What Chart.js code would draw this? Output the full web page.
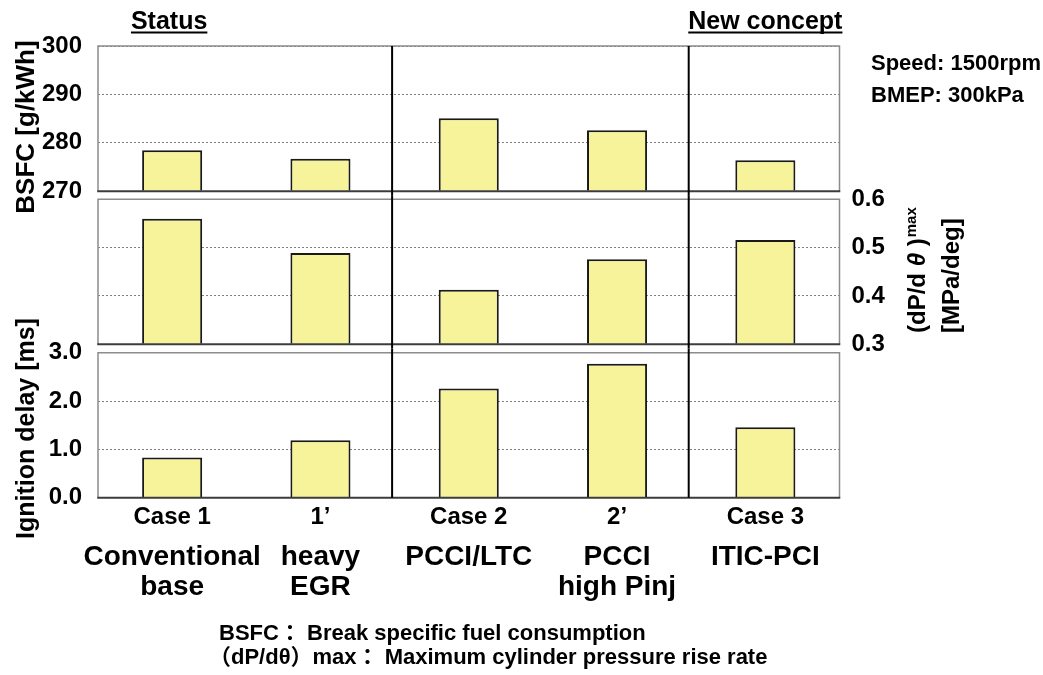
<!DOCTYPE html>
<html><head><meta charset="utf-8">
<script src="https://cdn.jsdelivr.net/npm/chart.js@4.4.1/dist/chart.umd.min.js"></script>
<style>
html,body{margin:0;padding:0;background:#fff;}
#wrap{position:relative;width:1043px;height:675px;overflow:hidden;background:#fff;}
canvas{position:absolute;left:0;top:0;}
</style></head>
<body><div id="wrap">
<canvas id="c1" width="1043" height="675"></canvas>
<canvas id="c2" width="1043" height="675"></canvas>
<canvas id="c3" width="1043" height="675"></canvas>
</div>
<script>
// ---- data ----
const categories = ['Case 1', '1\u2019', 'Case 2', '2\u2019', 'Case 3'];
const categoryLines = [['Conventional', 'base'], ['heavy', 'EGR'], ['PCCI/LTC'], ['PCCI', 'high Pinj'], ['ITIC-PCI']];
const groupTitles = ['Status', 'New concept'];
const groupTitleAt = [0, 4];
const dividerAfter = [1, 3];
const bsfc = [278.5, 276.7, 285.1, 282.6, 276.4];
const dpdthetaMax = [0.560, 0.489, 0.413, 0.476, 0.516];
const ignitionDelay = [0.83, 1.19, 2.26, 2.77, 1.46];
const bsfcTicks = [270, 280, 290, 300];
const dpTicks = [0.3, 0.4, 0.5, 0.6];
const ignTicks = [0.0, 1.0, 2.0, 3.0];
const conditions = ['Speed: 1500rpm', 'BMEP: 300kPa'];
const footnotes = ['BSFC\uFF1A Break specific fuel consumption', '\uFF08dP/d\u03B8\uFF09max\uFF1A Maximum cylinder pressure rise rate'];

// ---- style ----
const FONT = '"Liberation Sans", Arial, "Noto Sans CJK JP", sans-serif';
const W = 1043, H = 675;
const LEFT = 98, RIGHT = 839.5;
const BAR_FILL = '#F7F39B';

function txt(ctx, s, x, y, size, align, style) {
  ctx.font = (style || 'bold') + ' ' + size + 'px ' + FONT;
  ctx.textAlign = align || 'left';
  ctx.textBaseline = 'alphabetic';
  ctx.fillStyle = '#000';
  ctx.fillText(s, x, y);
  return ctx.measureText(s).width;
}
function rtxt(ctx, s, x, y, size, align) {
  ctx.save(); ctx.translate(x, y); ctx.rotate(-Math.PI / 2);
  txt(ctx, s, 0, 0, size, align);
  ctx.restore();
}

function makePanelPlugin(extTop, extBottom, extra) {
  return {
    id: 'panel',
    afterDatasetsDraw(chart) {
      const ctx = chart.ctx, a = chart.chartArea, x = chart.scales.x;
      ctx.save();
      ctx.setLineDash([]);
      ctx.strokeStyle = '#8c8c8c'; ctx.lineWidth = 1.5;
      ctx.beginPath();
      ctx.moveTo(a.left, a.bottom); ctx.lineTo(a.left, a.top);
      ctx.lineTo(a.right, a.top); ctx.lineTo(a.right, a.bottom);
      ctx.stroke();
      ctx.strokeStyle = '#3c3c3c'; ctx.lineWidth = 2;
      ctx.beginPath(); ctx.moveTo(a.left - 0.75, a.bottom); ctx.lineTo(a.right + 0.75, a.bottom); ctx.stroke();
      ctx.strokeStyle = '#000'; ctx.lineWidth = 2;
      dividerAfter.forEach(i => {
        const px = (x.getPixelForValue(i) + x.getPixelForValue(i + 1)) / 2 - 2.5;
        ctx.beginPath(); ctx.moveTo(px, a.top - extTop); ctx.lineTo(px, a.bottom + extBottom); ctx.stroke();
      });
      ctx.restore();
    },
    afterDraw(chart) { if (extra) { chart.ctx.save(); extra(chart); chart.ctx.restore(); } }
  };
}

function makeChart(id, values, ticks, decimals, pos, top, bottom, extTop, extBottom, extra) {
  const left = pos === 'left';
  return new Chart(document.getElementById(id), {
    type: 'bar',
    data: {
      labels: categories,
      datasets: [{
        data: values, base: ticks[0],
        backgroundColor: BAR_FILL, borderColor: '#1a1a1a', borderWidth: 2,
        borderSkipped: 'start', barPercentage: 0.405, categoryPercentage: 1
      }]
    },
    options: {
      responsive: false, animation: false, events: [],
      layout: { padding: { left: left ? 0 : LEFT, right: left ? W - RIGHT : 0, top: top, bottom: H - bottom } },
      plugins: { legend: { display: false }, tooltip: { enabled: false } },
      scales: {
        x: { display: false },
        y: {
          position: pos, min: ticks[0], max: ticks[ticks.length - 1],
          afterBuildTicks: s => { s.ticks = ticks.map(v => ({ value: v })); },
          afterFit: s => { s.width = left ? LEFT : W - RIGHT; },
          ticks: {
            color: '#000', padding: left ? 16 : 12,
            font: { family: FONT, size: 24, weight: 'bold' },
            callback: v => Number(v).toFixed(decimals)
          },
          grid: { color: '#808080', lineWidth: 1, drawTicks: false },
          border: { display: false, dash: [2, 2] }
        }
      }
    },
    plugins: [makePanelPlugin(extTop, extBottom, extra)]
  });
}

// top panel: BSFC
makeChart('c1', bsfc, bsfcTicks, 0, 'left', 46, 191.3, 0, 4.1, chart => {
  const ctx = chart.ctx, x = chart.scales.x;
  groupTitles.forEach((t, k) => {
    const cx = x.getPixelForValue(groupTitleAt[k]) - (k === 0 ? 3 : 0);
    const w = txt(ctx, t, cx, 29, 25, 'center');
    ctx.strokeStyle = '#000'; ctx.lineWidth = 2;
    ctx.beginPath(); ctx.moveTo(cx - w / 2, 32.5); ctx.lineTo(cx + w / 2, 32.5); ctx.stroke();
  });
  rtxt(ctx, 'BSFC [g/kWh]', 34, 127, 26, 'center');
  txt(ctx, conditions[0], 871, 70, 22, 'left');
  txt(ctx, conditions[1], 871, 101.5, 22, 'left');
});

// middle panel: (dP/dtheta)max
makeChart('c2', dpdthetaMax, dpTicks, 1, 'right', 199.3, 344.3, 4.1, 4.2, chart => {
  const ctx = chart.ctx;
  ctx.save(); ctx.translate(925, 333); ctx.rotate(-Math.PI / 2);
  let p = 0;
  p += txt(ctx, '(dP/d ', p, 0, 24, 'left');
  p += txt(ctx, '\u03B8', p, 0, 24, 'left', 'italic bold');
  p += txt(ctx, ' )', p, 0, 24, 'left');
  txt(ctx, 'max', p + 1, -9, 15, 'left');
  ctx.restore();
  rtxt(ctx, '[MPa/deg]', 959, 333, 24, 'left');
});

// bottom panel: ignition delay
makeChart('c3', ignitionDelay, ignTicks, 1, 'left', 352.7, 497.7, 4.2, 0, chart => {
  const ctx = chart.ctx, x = chart.scales.x;
  rtxt(ctx, 'Ignition delay [ms]', 34, 428.5, 25, 'center');
  categories.forEach((c, i) => {
    const cx = x.getPixelForValue(i);
    txt(ctx, c, cx, 524, 24, 'center');
    categoryLines[i].forEach((s, j) => txt(ctx, s, cx, 565 + j * 30, 28, 'center'));
  });
  txt(ctx, footnotes[0], 219, 640, 22, 'left');
  txt(ctx, footnotes[1], 209, 664, 22, 'left');
});
</script>
</body></html>
